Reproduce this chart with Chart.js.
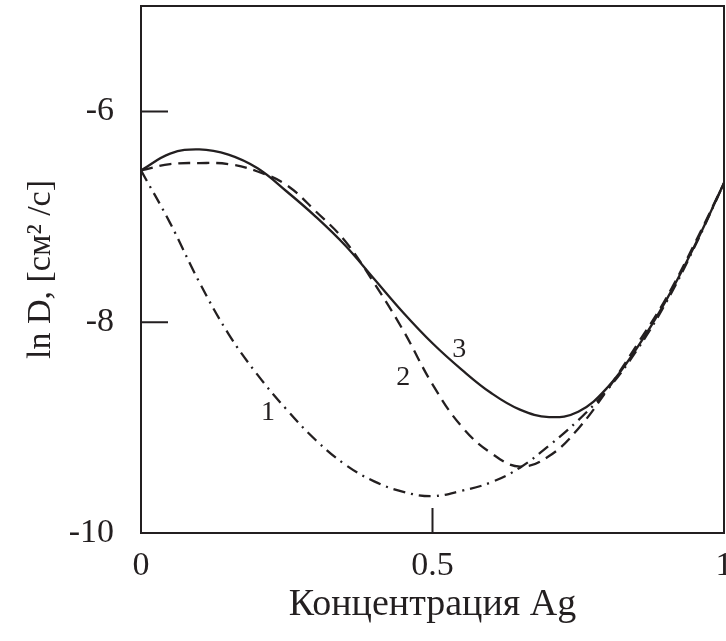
<!DOCTYPE html>
<html>
<head>
<meta charset="utf-8">
<script src="https://cdn.jsdelivr.net/npm/chart.js@4/dist/chart.umd.min.js"></script>
<style>
  html, body { margin: 0; padding: 0; background: #fff; overflow: hidden; }
  #wrap { width: 726px; height: 641px; }
</style>
</head>
<body>
<div id="wrap"><canvas id="c"></canvas></div>
<script>
// ln D vs Ag concentration, three curves (1 dash-dot, 2 dashed, 3 solid)
const conc = [0, 0.05, 0.1, 0.15, 0.2, 0.25, 0.3, 0.35, 0.4, 0.45, 0.5, 0.55, 0.6, 0.65, 0.7, 0.75, 0.8, 0.85, 0.9, 0.95, 1.0];
const curve1 = [-6.56, -7.06, -7.62, -8.11, -8.50, -8.83, -9.12, -9.35, -9.51, -9.61, -9.65, -9.60, -9.52, -9.38, -9.17, -8.93, -8.64, -8.27, -7.82, -7.28, -6.68];
const curve2 = [-6.56, -6.50, -6.49, -6.50, -6.57, -6.70, -6.95, -7.23, -7.63, -8.08, -8.59, -8.99, -9.24, -9.37, -9.27, -9.01, -8.64, -8.22, -7.78, -7.25, -6.68];
const curve3 = [-6.56, -6.40, -6.36, -6.41, -6.54, -6.76, -7.00, -7.27, -7.59, -7.91, -8.20, -8.45, -8.67, -8.83, -8.90, -8.85, -8.62, -8.25, -7.80, -7.27, -6.68];

const curveNames = ["1", "2", "3"];
const curveLabelX = [0.218, 0.450, 0.546];
const curveLabelY = [-8.86, -8.53, -8.26];

const xTicks = [0, 0.5, 1];
const yTicks = [-10, -8, -6];
const xInnerTicks = [0.5];
const yInnerTicks = [-8, -6];

const ink = "#231f20";
const serif = "'Liberation Serif', 'Times New Roman', serif";

function pts(xs, ys) {
  return xs.map((x, i) => ({ x: x, y: ys[i] }));
}

const frame = {
  id: "frame",
  afterDatasetsDraw(chart) {
    const { ctx, chartArea: a, scales } = chart;
    ctx.save();
    ctx.strokeStyle = ink;
    ctx.lineWidth = 2;
    ctx.strokeRect(a.left, a.top, a.right - a.left, a.bottom - a.top);
    ctx.beginPath();
    yInnerTicks.forEach(v => {
      const y = scales.y.getPixelForValue(v);
      ctx.moveTo(a.left, y);
      ctx.lineTo(a.left + 27, y);
    });
    xInnerTicks.forEach(v => {
      const x = scales.x.getPixelForValue(v);
      ctx.moveTo(x, a.bottom);
      ctx.lineTo(x, a.bottom - 25);
    });
    ctx.stroke();

    ctx.fillStyle = ink;
    ctx.font = "28px " + serif;
    ctx.textAlign = "center";
    ctx.textBaseline = "middle";
    curveNames.forEach((t, i) => {
      ctx.fillText(t, scales.x.getPixelForValue(curveLabelX[i]), scales.y.getPixelForValue(curveLabelY[i]));
    });
    ctx.restore();
  }
};

const lineBase = {
  borderColor: ink,
  borderWidth: 2.3,
  pointRadius: 0,
  fill: false,
  tension: 0.4
};

new Chart(document.getElementById("c"), {
  type: "line",
  data: {
    datasets: [
      Object.assign({ label: "1", data: pts(conc, curve1), borderDash: [12, 6, 2, 6] }, lineBase),
      Object.assign({ label: "2", data: pts(conc, curve2), borderDash: [12, 7] }, lineBase),
      Object.assign({ label: "3", data: pts(conc, curve3) }, lineBase)
    ]
  },
  options: {
    responsive: true,
    maintainAspectRatio: false,
    animation: false,
    layout: { padding: { top: 6, right: 2, left: 0, bottom: 0 } },
    plugins: { legend: { display: false }, tooltip: { enabled: false } },
    scales: {
      x: {
        type: "linear",
        min: 0,
        max: 1,
        afterBuildTicks: s => { s.ticks = xTicks.map(v => ({ value: v })); },
        afterFit: s => { s.height = 108; s.paddingLeft = 0; s.paddingRight = 0; },
        grid: { display: false },
        border: { display: false },
        ticks: {
          color: ink,
          padding: 5,
          maxRotation: 0,
          autoSkip: false,
          font: { family: serif, size: 34 },
          callback: v => String(v)
        },
        title: {
          display: true,
          text: "Концентрация Ag",
          color: ink,
          font: { family: serif, size: 38 },
          padding: { top: 0, bottom: 13 }
        }
      },
      y: {
        min: -10,
        max: -5,
        afterBuildTicks: s => { s.ticks = yTicks.map(v => ({ value: v })); },
        afterFit: s => { s.width = 141; s.paddingTop = 0; s.paddingBottom = 0; },
        grid: { display: false },
        border: { display: false },
        ticks: {
          color: ink,
          padding: 19,
          autoSkip: false,
          font: { family: serif, size: 34 },
          callback: v => String(v)
        },
        title: {
          display: true,
          text: "ln D, [см² /с]",
          color: ink,
          font: { family: serif, size: 34 },
          padding: { top: 21, bottom: 0 }
        }
      }
    }
  },
  plugins: [frame]
});
</script>
</body>
</html>
